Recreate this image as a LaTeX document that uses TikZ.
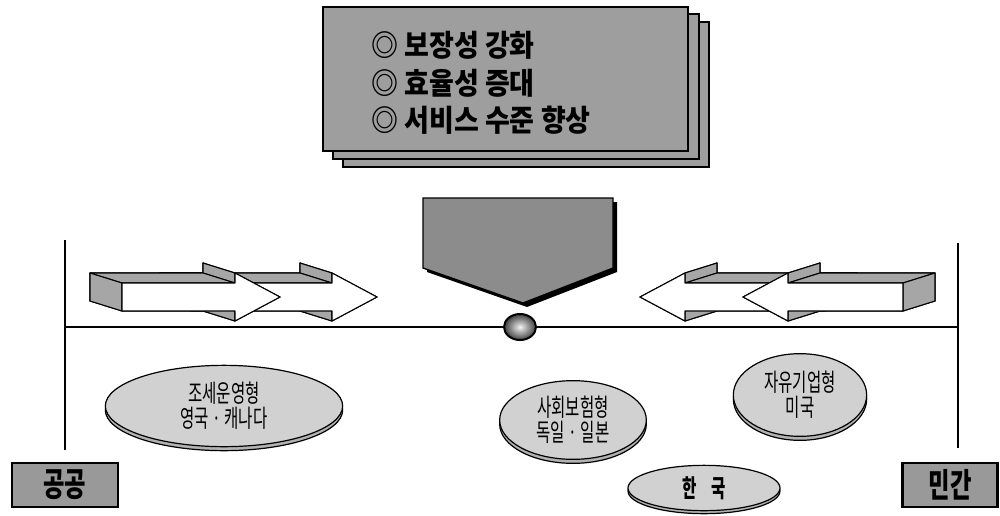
\documentclass[tikz,border=0pt]{standalone}
\usepackage{fontspec}
\usetikzlibrary{shapes.geometric}
\newfontfamily\krA[FakeStretch=0.9]{Noto Sans CJK KR}
\newfontfamily\krB[FakeStretch=0.63]{Noto Sans CJK KR}
\newfontfamily\krC[FakeStretch=0.7]{Noto Sans CJK KR}
\tikzset{
  card/.style={draw=black, line width=1.3pt, fill=black!38},
  cardtext/.style={anchor=west, inner sep=0pt, font=\krA\bfseries\fontsize{22.5}{24}\selectfont},
  shade3d/.style={draw=black, line width=0.8pt, fill=black!35, line join=round},
  front3d/.style={draw=black, line width=0.8pt, fill=white, line join=round},
  disc/.style={ellipse, draw=black, line width=0.9pt, fill=black!18, inner sep=0pt, align=center,
     font=\krB\fontsize{18.5}{18.5}\selectfont},
  rim/.style={draw=black, line width=0.9pt, fill=black!30},
  sidebox/.style={rectangle, draw=black, line width=2pt, fill=black!40, inner sep=0pt,
     minimum height=33pt, font=\krC\bfseries\fontsize{25}{26}\selectfont},
  axis/.style={draw=black, line width=1.5pt}
}
\newcommand\tdarrow[4]{%
\begin{scope}[shift={(#1,#2)},xscale=#4]
\pgfmathsetmacro\fe{-45-#3}
\pgfmathsetmacro\be{-77-#3}
\filldraw[shade3d] (-32,-10)--(-77,-34)--(-77,-24)--(\be,-24)--(\be,4)--(-77,4)--(-77,14)--cycle;
\filldraw[shade3d] (\fe,14)--(-45,14)--(-77,4)--(\be,4)--cycle;
\filldraw[shade3d] (-45,24)--(0,0)--(-32,-10)--(-77,14)--cycle;
\filldraw[shade3d] (-45,14)--(-45,24)--(-77,14)--(-77,4)--cycle;
\filldraw[shade3d] (0,0)--(-45,-24)--(-77,-34)--(-32,-10)--cycle;
\filldraw[shade3d] (-45,-24)--(-45,-14)--(-77,-24)--(-77,-34)--cycle;
\filldraw[shade3d] (\fe,-14)--(-45,-14)--(-77,-24)--(\be,-24)--cycle;
\filldraw[shade3d] (\fe,-14)--(\fe,14)--(\be,4)--(\be,-24)--cycle;
\filldraw[front3d] (0,0)--(-45,-24)--(-45,-14)--(\fe,-14)--(\fe,14)--(-45,14)--(-45,24)--cycle;
\end{scope}}
\begin{document}
\begin{tikzpicture}[x=0.75pt,y=-0.75pt]
\useasboundingbox (0,0) rectangle (1000,515);

% stacked cards
\draw[card] (343,22) rectangle (709,167);
\draw[card] (333,14) rectangle (699,159);
\draw[card] (323,7) rectangle (688,151);
\node[cardtext] (g1) at (371,45) {◎ 보장성 강화};
\node[cardtext] (g2) at (371,83) {◎ 효율성 증대};
\node[cardtext] (g3) at (371,120) {◎ 서비스 수준 향상};

% axis lines
\coordinate (lt) at (65,240);
\coordinate (lb) at (65,450);
\coordinate (rt) at (958,243);
\coordinate (rb) at (958,448);
\coordinate (hl) at (65,327);
\coordinate (hr) at (958,327);
\draw[axis] (lt) -- (lb);
\draw[axis] (rt) -- (rb);
\draw[axis] (hl) -- (hr);

% 3D arrows
\tdarrow{377}{297}{140}{1}
\tdarrow{280}{297}{113}{1}
\tdarrow{640}{297}{140}{-1}
\tdarrow{743}{297}{115}{-1}

% central pentagon pointer
\fill[black] (427,202)--(617,202)--(617,272)--(527,307)--(427,272)--cycle;
\filldraw[draw=black, line width=1pt, fill=black!45] (423,198)--(613,198)--(613,268)--(523,303)--(423,268)--cycle;

% ball
\node[ellipse, draw=black, line width=1.5pt, inner color=black!5, outer color=black!75,
      minimum width=24pt, minimum height=19.5pt, inner sep=0pt] (ball) at (520,327) {};

% ellipses
\draw[rim] (224,410) ellipse [x radius=89pt, y radius=30.5pt];
\node[disc, minimum width=178pt, minimum height=61pt] (e1) at (224,406) {조세운영형\\영국 · 캐나다};
\draw[rim] (573,424) ellipse [x radius=55pt, y radius=29.5pt];
\node[disc, minimum width=110pt, minimum height=59pt] (e2) at (573,420) {사회보험형\\독일 · 일본};
\draw[rim] (800,399) ellipse [x radius=50pt, y radius=31pt];
\node[disc, minimum width=100pt, minimum height=62pt] (e3) at (800,395) {자유기업형\\미국};
\draw[rim] (704,491) ellipse [x radius=57pt, y radius=17pt];
\node[disc, minimum width=114pt, minimum height=34pt, font=\krB\bfseries\fontsize{18.5}{18.5}\selectfont] (e4) at (704,488) {한\hspace{0.6em}국};

% side boxes
\node[sidebox, minimum width=79.5pt] (pub) at (65,485) {공공};
\node[sidebox, minimum width=71pt] (pri) at (950,485) {민간};
\end{tikzpicture}
\end{document}
